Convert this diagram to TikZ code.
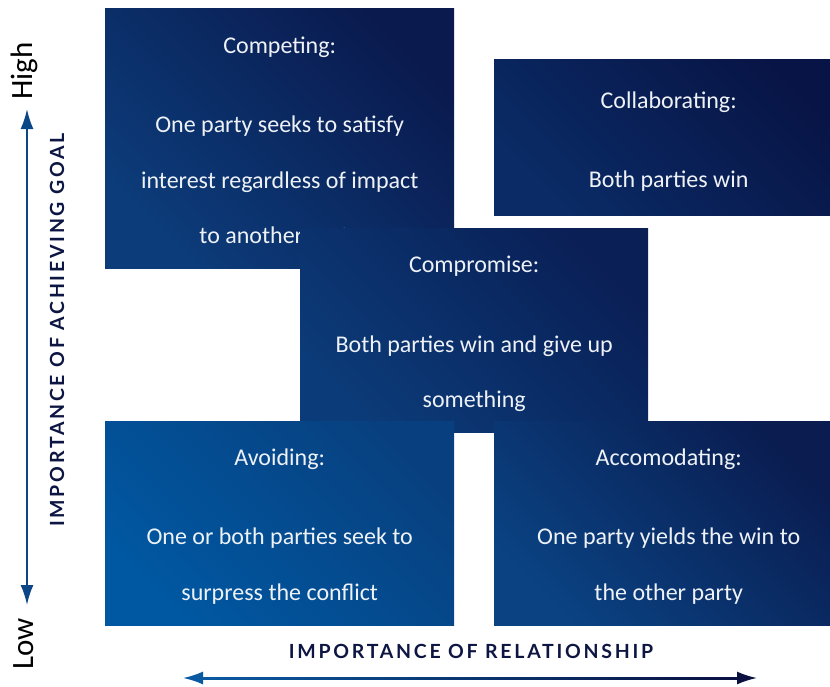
\documentclass[tikz,border=0pt]{standalone}
\usepackage{fontspec}
\setmainfont{Carlito}
\newfontfamily\axisfont[LetterSpace=14]{Lato}
\usepackage{tikz}
\usetikzlibrary{arrows.meta, calc, positioning}

\definecolor{boxText}{HTML}{EEF2F7}
\definecolor{labelNavy}{HTML}{0D1642}
\definecolor{arrowBlue}{HTML}{0B4787}
\definecolor{arrowLight}{HTML}{0A5AA2}
\definecolor{arrowDark}{HTML}{0A1040}
% box colours: light (bottom left) and dark (top right)
\definecolor{compLight}{HTML}{0C3C7A}
\definecolor{compDark}{HTML}{0A1A4E}
\definecolor{collLight}{HTML}{0A2B66}
\definecolor{collDark}{HTML}{081445}
\definecolor{mediLight}{HTML}{0B3B78}
\definecolor{mediDark}{HTML}{0A1F56}
\definecolor{avoiLight}{HTML}{0058A2}
\definecolor{avoiDark}{HTML}{08407F}
\definecolor{accoLight}{HTML}{0A4282}
\definecolor{accoDark}{HTML}{0A1C50}

\tikzset{
	quad/.style 2 args={rectangle, inner sep=0pt, anchor=north west,
		top color=#1, bottom color=#2, shading angle=-45},
	head/.style={text=boxText, anchor=base, font=\fontsize{24}{28}\selectfont},
	axislabel/.style={text=labelNavy, inner sep=0pt, font=\axisfont\bfseries\fontsize{19.5}{22}\selectfont},
	scale label/.style={text=black, inner sep=0pt, font=\fontsize{31}{34}\selectfont},
	>={Latex[length=20pt, width=13pt]}
}

\begin{document}
\begin{tikzpicture}[x=1pt, y=-1pt]

	\useasboundingbox (0,0) rectangle (830,686);

	% competing
	\node[quad={compDark}{compLight}, minimum width=349pt, minimum height=260pt] (competing) at (105,8) {};
	\node[head] (competing-t) at ([yshift=-45pt]competing.north) {Competing:};
	\node[head] (competing-1) at ([yshift=-124pt]competing.north) {One party seeks to satisfy};
	\node[head] (competing-2) at ([yshift=-180pt]competing.north) {interest regardless of impact};
	\node[head] (competing-3) at ([yshift=-235pt]competing.north) {to another party};

	% collaborating (runs past the right edge)
	\node[quad={collDark}{collLight}, minimum width=349pt, minimum height=156pt] (collab) at (494,59) {};
	\node[head] (collab-t) at ([yshift=-49pt]collab.north) {Collaborating:};
	\node[head] (collab-1) at ([yshift=-128pt]collab.north) {Both parties win};

	% compromise
	\node[quad={mediDark}{mediLight}, minimum width=348pt, minimum height=204pt] (compromise) at (300,228) {};
	\node[head] (compromise-t) at ([yshift=-44pt]compromise.north) {Compromise:};
	\node[head] (compromise-1) at ([yshift=-124pt]compromise.north) {Both parties win and give up};
	\node[head] (compromise-2) at ([yshift=-179pt]compromise.north) {something};

	% avoiding
	\node[quad={avoiDark}{avoiLight}, minimum width=349pt, minimum height=204pt] (avoiding) at (105,421) {};
	\node[head] (avoiding-t) at ([yshift=-44pt]avoiding.north) {Avoiding:};
	\node[head] (avoiding-1) at ([yshift=-123pt]avoiding.north) {One or both parties seek to};
	\node[head] (avoiding-2) at ([yshift=-179pt]avoiding.north) {surpress the conflict};

	% accomodating (runs past the right edge)
	\node[quad={accoDark}{accoLight}, minimum width=349pt, minimum height=204pt] (accom) at (494,421) {};
	\node[head] (accom-t) at ([yshift=-44pt]accom.north) {Accomodating:};
	\node[head] (accom-1) at ([yshift=-123pt]accom.north) {One party yields the win to};
	\node[head] (accom-2) at ([yshift=-179pt]accom.north) {the other party};

	% vertical axis
	\coordinate (goal-hi) at (27,109);
	\coordinate (goal-lo) at (27,605);
	\draw[arrowBlue, line width=2pt, <->] (goal-lo) -- (goal-hi);
	\node[scale label, rotate=90] (high) at (24,71) {High};
	\node[scale label, rotate=90] (low) at (24,644) {Low};
	\node[axislabel, rotate=90] (goal) at (57,330) {IMPORTANCE OF ACHIEVING GOAL};

	% horizontal axis
	\node[axislabel] (relation) at (471,651) {IMPORTANCE OF RELATIONSHIP};
	\coordinate (rel-l) at (183,678);
	\coordinate (rel-r) at (757,678);
	\coordinate (rel-m) at ($(rel-l)!0.5!(rel-r)$);
	\draw[arrowLight, line width=2pt, <-] (rel-l) -- (rel-m);
	\draw[arrowDark, line width=2pt, ->] (rel-m) -- (rel-r);
	\shade[left color=arrowLight, right color=arrowDark] ($(rel-l)+(14,-1)$) rectangle ($(rel-r)+(-14,1)$);

\end{tikzpicture}
\end{document}
